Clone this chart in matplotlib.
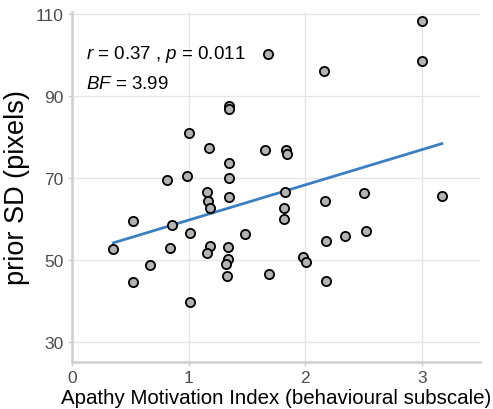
import numpy as np
import matplotlib
matplotlib.use("Agg")
import matplotlib.pyplot as plt

plt.rcParams['font.family'] = ['Liberation Sans', 'DejaVu Sans']
plt.rcParams['mathtext.fontset'] = 'custom'
plt.rcParams['mathtext.rm'] = 'Liberation Sans'
plt.rcParams['mathtext.it'] = 'Liberation Sans:italic'

apathy = [0.355, 0.52, 0.52, 0.666, 0.837, 0.854, 0.817, 0.989, 1.0, 1.011,
          1.011, 1.174, 1.157, 1.163, 1.185, 1.187, 1.157, 1.343, 1.343, 1.345,
          1.343, 1.343, 1.34, 1.34, 1.323, 1.326, 1.482, 1.654, 1.68, 1.686,
          1.835, 1.846, 1.828, 1.817, 1.82, 1.983, 2.005, 2.16, 2.172, 2.176,
          2.182, 2.337, 2.505, 2.52, 3.005, 3.003, 3.172]
prior_sd = [52.75, 59.5, 44.7, 48.85, 53.0, 58.6, 69.6, 70.6, 80.9, 56.6,
            39.9, 77.4, 66.5, 64.4, 62.7, 53.55, 51.8, 87.4, 86.7, 73.7,
            70.0, 65.3, 53.1, 50.2, 49.0, 46.25, 56.4, 76.7, 100.1, 46.6,
            76.7, 75.8, 66.6, 62.6, 60.1, 50.8, 49.65, 96.1, 64.5, 54.6,
            44.85, 56.0, 66.4, 57.05, 108.2, 98.5, 65.55]
x_ticks = [0, 1, 2, 3]
y_ticks = [30, 50, 70, 90, 110]
stats_line1 = r"$r$ = 0.37 , $p$ = 0.011"
stats_line2 = r"$BF$ = 3.99"

x = np.array(apathy)
y = np.array(prior_sd)

fig = plt.figure(figsize=(4.93, 4.10), dpi=100)
ax = fig.add_axes([0.146, 0.1154, 0.828, 0.853])

ax.set_xlim(0, 3.5)
ax.set_ylim(25.3, 110.4)
ax.set_xticks(x_ticks)
ax.set_yticks(y_ticks)
ax.grid(True, color='#e6e6e6', linewidth=1.0)
ax.set_axisbelow(True)

for s in ['top', 'right']:
    ax.spines[s].set_visible(False)
for s in ['left', 'bottom']:
    ax.spines[s].set_color('#cfcfcf')
    ax.spines[s].set_linewidth(1.8)

ax.tick_params(axis='both', colors='#cfcfcf', labelcolor='#4d4d4d',
               labelsize=12.5, length=3, width=1.0)
ax.tick_params(axis='x', pad=3)
ax.tick_params(axis='y', pad=3)

# regression line
b, a = np.polyfit(x, y, 1)
xs = np.array([x.min(), x.max()])
ax.plot(xs, a + b * xs, color='#3a7fc1', linewidth=2.0, zorder=2)

ax.scatter(x, y, s=44, facecolor='#b3b3b3', edgecolor='black', linewidth=1.3, zorder=3)

ax.text(0.117, 100.2, stats_line1, fontsize=13.5, va='center', ha='left', color='black')
ax.text(0.117, 92.9, stats_line2, fontsize=13.5, va='center', ha='left', color='black')

ax.set_xlabel("Apathy Motivation Index (behavioural subscale)", fontsize=14.8, labelpad=2)
ax.set_ylabel("prior SD (pixels)", fontsize=19.5, labelpad=4)

fig.savefig("out.png", dpi=100)
